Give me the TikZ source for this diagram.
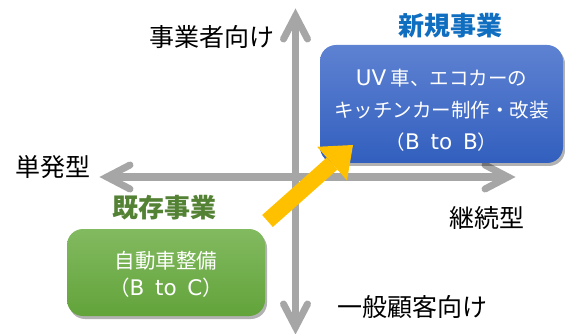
\documentclass[tikz,border=0pt]{standalone}
\usepackage{fontspec}
\newfontfamily\jp{Noto Sans CJK JP}
\newfontfamily\latn{DejaVu Sans}
\newcommand\lt[1]{{\latn\fontsize{21.5}{32}\selectfont #1}}
\usetikzlibrary{arrows.meta,shadows}
\definecolor{axisgray}{RGB}{166,166,166}
\definecolor{arrowyellow}{RGB}{255,192,0}
\definecolor{titleblue}{RGB}{16,110,192}
\definecolor{titlegreen}{RGB}{84,130,53}
\definecolor{bluetop}{RGB}{94,130,210}
\definecolor{bluebot}{RGB}{50,95,190}
\definecolor{greentop}{RGB}{130,186,96}
\definecolor{greenbot}{RGB}{98,163,58}
\begin{document}
\begin{tikzpicture}[x=1pt,y=-1pt,
  axis/.style={draw=axisgray, line width=7pt},
  chev/.style={draw=axisgray, line width=7pt, line cap=round, line join=miter},
  lbl/.style={font=\jp\fontsize{25}{30}\selectfont, text=black, inner sep=0pt},
  ttl/.style={font=\jp\bfseries\fontsize{26}{30}\selectfont, inner sep=0pt},
  box/.style={rounded corners=16pt, inner sep=0pt,
    drop shadow={shadow xshift=2pt, shadow yshift=-3pt, opacity=0.3, fill=black}},
  boxtxt/.style={text=white, align=center, inner sep=0pt},
  growth/.style={draw=arrowyellow, line width=16pt,
    -{Triangle[length=28pt, width=45pt, line width=0pt]}}
]
\useasboundingbox (0,0) rectangle (565,334);
% axes
\coordinate (L) at (107,177);
\coordinate (R) at (508,177);
\coordinate (T) at (295.5,16);
\coordinate (B) at (295.5,327);
\coordinate (L1) at (130,165);
\coordinate (L2) at (130,189);
\coordinate (R1) at (485,165);
\coordinate (R2) at (485,189);
\coordinate (T1) at (283.5,39);
\coordinate (T2) at (307.5,39);
\coordinate (B1) at (283.5,304);
\coordinate (B2) at (307.5,304);
\draw[axis] (L) -- (R);
\draw[axis] (T) -- (B);
\draw[chev] (L1) -- (L) -- (L2);
\draw[chev] (R1) -- (R) -- (R2);
\draw[chev] (T1) -- (T) -- (T2);
\draw[chev] (B1) -- (B) -- (B2);
% axis labels
\node[lbl] (up) at (212,37) {事業者向け};
\node[lbl] (left) at (53,167) {単発型};
\node[lbl] (right) at (487,218) {継続型};
\node[lbl] (down) at (412,307) {一般顧客向け};
% titles
\node[ttl, text=titleblue] (newtitle) at (450,26) {新規事業};
\node[ttl, text=titlegreen] (oldtitle) at (164,208) {既存事業};
% boxes
\node[box, minimum width=243pt, minimum height=118pt, top color=bluetop, bottom color=bluebot] (newbox) at (441.5,104) {};
\node[boxtxt, font=\jp\fontsize{19.5}{32}\selectfont] (newtext) at (441.5,110)
  {\lt{UV} 車、エコカーの\\キッチンカー制作・改装\\（\lt{B\hspace{.5em}to\hspace{.5em}B}）};
\node[box, minimum width=198pt, minimum height=87pt, top color=greentop, bottom color=greenbot] (oldbox) at (166,272.5) {};
\node[boxtxt, font=\jp\fontsize{20.5}{27}\selectfont] (oldtext) at (166,274.5)
  {自動車整備\\（\lt{B\hspace{.5em}to\hspace{.5em}C}）};
% growth arrow
\coordinate (ya) at (267.5,221);
\coordinate (yb) at (353,145);
\draw[growth] (ya) -- (yb);
\end{tikzpicture}
\end{document}
